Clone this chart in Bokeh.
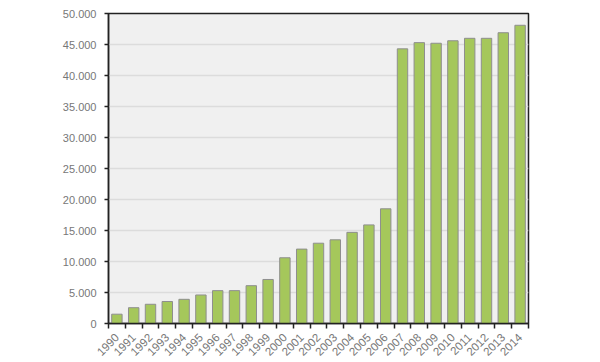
import math
from bokeh.plotting import figure
from bokeh.models import ColumnDataSource, FixedTicker, Range1d
from bokeh.embed import file_html
from bokeh.resources import INLINE

years = ["1990", "1991", "1992", "1993", "1994", "1995", "1996", "1997", "1998", "1999",
         "2000", "2001", "2002", "2003", "2004", "2005", "2006", "2007", "2008", "2009",
         "2010", "2011", "2012", "2013", "2014"]
values = [1500, 2550, 3100, 3550, 3900, 4600, 5300, 5300, 6100, 7100,
          10600, 12000, 12950, 13500, 14700, 15900, 18500, 44300, 45300, 45200,
          45600, 46000, 46000, 46900, 48100]
y_ticks = [0, 5000, 10000, 15000, 20000, 25000, 30000, 35000, 40000, 45000, 50000]
y_tick_labels = ["0", "5.000", "10.000", "15.000", "20.000", "25.000", "30.000",
                 "35.000", "40.000", "45.000", "50.000"]

xs = list(range(len(years)))
src = ColumnDataSource(dict(x=xs, top=values, year=years))

p = figure(width=600, height=362, output_backend="svg", toolbar_location=None,
           x_range=Range1d(-0.5, len(years) - 0.5), y_range=Range1d(0, 50000),
           min_border_left=108, min_border_right=72, min_border_top=13, min_border_bottom=39)

p.border_fill_color = "white"
p.background_fill_color = "#f0f0f0"
p.outline_line_color = "#222222"
p.outline_line_width = 1.5

p.vbar(x="x", top="top", width=0.62, bottom=0, source=src,
       fill_color="#a5c75b", line_color="#8e8e8e", line_width=1)

# x axis
p.xaxis.ticker = FixedTicker(ticks=xs, minor_ticks=[i - 0.5 for i in range(len(years) + 1)])
p.xaxis.major_label_overrides = {i: y for i, y in enumerate(years)}
p.xaxis.major_label_orientation = math.pi / 4
p.xaxis.major_tick_out = 0
p.xaxis.major_tick_in = 0
p.xaxis.minor_tick_out = 5
p.xaxis.minor_tick_in = 0
p.xaxis.minor_tick_line_color = "#222222"
p.xaxis.minor_tick_line_width = 1.5
p.xaxis.axis_line_color = "#222222"
p.xaxis.axis_line_width = 1.5
p.xaxis.major_label_standoff = 7
p.xaxis.major_label_text_font = "Liberation Sans"
p.xaxis.major_label_text_font_size = "11.5px"
p.xaxis.major_label_text_color = "#777777"

# y axis
p.yaxis.ticker = FixedTicker(ticks=y_ticks)
p.yaxis.major_label_overrides = {t: l for t, l in zip(y_ticks, y_tick_labels)}
p.yaxis.major_tick_out = 4
p.yaxis.major_tick_in = 0
p.yaxis.minor_tick_line_color = None
p.yaxis.major_tick_line_color = "#222222"
p.yaxis.major_tick_line_width = 1.5
p.yaxis.axis_line_color = "#222222"
p.yaxis.axis_line_width = 1.5
p.yaxis.major_label_standoff = 8
p.yaxis.major_label_text_font = "Liberation Sans"
p.yaxis.major_label_text_font_size = "11px"
p.yaxis.major_label_text_color = "#777777"

p.xgrid.grid_line_color = None
p.ygrid.grid_line_color = "#dcdcdc"
p.ygrid.grid_line_width = 1.5

open("out.html", "w").write(file_html(p, INLINE))
